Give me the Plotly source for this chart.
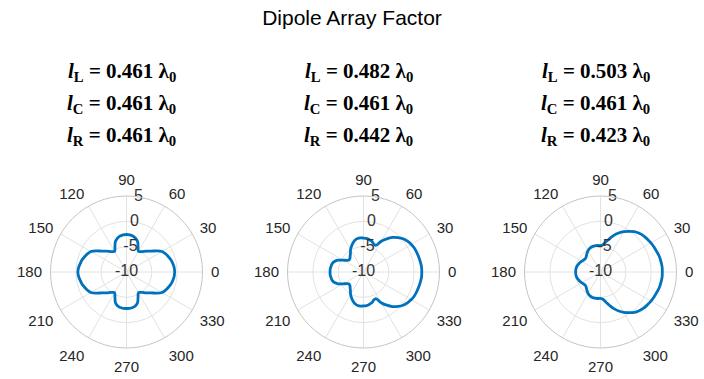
import plotly.graph_objects as go

# ---- data ----
theta_deg = [0, 5, 10, 15, 20, 25, 30, 35, 40, 45, 50, 55, 60, 65, 70, 75, 80, 85, 90,
             95, 100, 105, 110, 115, 120, 125, 130, 135, 140, 145, 150, 155, 160, 165, 170, 175, 180,
             185, 190, 195, 200, 205, 210, 215, 220, 225, 230, 235, 240, 245, 250, 255, 260, 265, 270,
             275, 280, 285, 290, 295, 300, 305, 310, 315, 320, 325, 330, 335, 340, 345, 350, 355, 360]

af_left = [-0.5, -0.55, -0.7, -0.9, -1.2, -1.5, -1.9, -2.7, -3.6, -4.2, -4.7, -5.1, -5.3, -4.6, -3.6, -3.1, -2.8, -2.65, -2.6,
           -2.65, -2.8, -3.1, -3.6, -4.6, -5.3, -5.1, -4.7, -4.2, -3.6, -2.7, -1.9, -1.5, -1.2, -0.9, -0.7, -0.5, -0.4,
           -0.5, -0.7, -0.9, -1.2, -1.5, -1.9, -2.7, -3.6, -4.2, -4.7, -5.1, -5.3, -4.6, -3.6, -3.1, -2.9, -2.8, -2.8,
           -2.8, -2.9, -3.1, -3.6, -4.6, -5.3, -5.1, -4.7, -4.2, -3.6, -2.7, -1.9, -1.5, -1.2, -0.9, -0.7, -0.55, -0.5]

af_mid = [1.5, 1.5, 1.4, 1.3, 1.2, 1.1, 0.9, 0.6, 0.2, -0.4, -1.1, -2.0, -3.0, -4.2, -4.1, -3.7, -3.5, -3.35, -3.3,
          -3.25, -3.3, -3.5, -3.9, -4.4, -4.9, -5.5, -5.9, -6.2, -6.3, -6.0, -5.3, -4.5, -3.9, -3.6, -3.5, -3.4, -3.4,
          -3.4, -3.5, -3.6, -3.9, -4.5, -5.3, -6.0, -6.3, -6.2, -5.9, -5.5, -4.9, -4.4, -3.9, -3.5, -3.3, -3.25, -3.3,
          -3.35, -3.5, -3.7, -4.1, -4.2, -3.0, -2.0, -1.1, -0.4, 0.2, 0.6, 0.9, 1.1, 1.2, 1.3, 1.4, 1.5, 1.5]

af_right = [2.2, 2.2, 2.1, 2.0, 1.8, 1.65, 1.5, 1.3, 1.1, 0.8, 0.4, -0.2, -0.8, -1.5, -2.3, -3.2, -4.0, -4.6, -4.8,
            -4.75, -4.7, -4.7, -4.75, -4.9, -5.1, -5.4, -5.7, -5.95, -6.0, -5.9, -5.75, -5.55, -5.4, -5.25, -5.15, -5.1, -5.1,
            -5.1, -5.15, -5.25, -5.4, -5.55, -5.75, -5.9, -6.0, -5.95, -5.7, -5.4, -5.1, -4.9, -4.75, -4.7, -4.7, -4.75, -4.8,
            -4.6, -4.0, -3.2, -2.3, -1.5, -0.8, -0.2, 0.4, 0.8, 1.1, 1.3, 1.5, 1.65, 1.8, 2.0, 2.1, 2.2, 2.2]

series = [af_left, af_mid, af_right]

l_L = ["0.461", "0.482", "0.503"]
l_C = ["0.461", "0.461", "0.461"]
l_R = ["0.461", "0.442", "0.423"]

angle_ticks = list(range(0, 360, 30))
angle_labels = [str(a) for a in angle_ticks]
r_ticks = [-10, -5, 0, 5]
r_labels = ["-10", "-5", "0", "5"]
r_label_angle = 81  # direction along which the radial tick labels are written

# ---- layout geometry ----
W, H = 704, 379
centers_x = [126.5, 363.5, 600.5]
center_y = 272
D = 76  # half-size of each polar domain box

fig = go.Figure()
layout_polars = {}
annotations = []
for i, (cx, rvals) in enumerate(zip(centers_x, series)):
    name = "polar" if i == 0 else f"polar{i+1}"
    fig.add_trace(go.Scatterpolar(
        theta=theta_deg, r=rvals, mode="lines",
        line=dict(color="#0072BD", width=2.8, shape="spline", smoothing=1.0),
        subplot=name, showlegend=False, hoverinfo="skip"))
    # radial tick labels, written along the ~80-degree direction like the reference
    fig.add_trace(go.Scatterpolar(
        theta=[r_label_angle] * len(r_ticks), r=r_ticks, mode="text",
        text=r_labels, textposition="middle center",
        textfont=dict(family="Arial", size=16, color="#333333"),
        cliponaxis=False, subplot=name, showlegend=False, hoverinfo="skip"))
    layout_polars[name] = dict(
        domain=dict(x=[(cx - D) / W, (cx + D) / W],
                    y=[1 - (center_y + D) / H, 1 - (center_y - D) / H]),
        bgcolor="white",
        radialaxis=dict(range=[-10, 5], tickvals=r_ticks, showticklabels=False,
                        angle=80, showline=False, ticks="",
                        gridcolor="#e2e2e2", gridwidth=1),
        angularaxis=dict(tickvals=angle_ticks, ticktext=angle_labels,
                         rotation=0, direction="counterclockwise",
                         gridcolor="#e2e2e2", gridwidth=1,
                         showline=True, linecolor="#c4c4c4", linewidth=1,
                         ticks="outside", ticklen=5, tickcolor="rgba(0,0,0,0)",
                         tickfont=dict(family="Arial", size=15, color="#262626")),
    )
    lines = [("L", l_L[i]), ("C", l_C[i]), ("R", l_R[i])]
    ys = [72, 104, 136]
    for (sub, val), yy in zip(lines, ys):
        annotations.append(dict(
            text=f"<b><i>l</i><sub>{sub}</sub> = {val} λ<sub>0</sub></b>",
            x=(cx - 5) / W, y=1 - yy / H, xref="paper", yref="paper",
            xanchor="center", yanchor="middle", showarrow=False,
            font=dict(family="Liberation Serif", size=21, color="#000000")))

fig.update_layout(
    width=W, height=H, autosize=False,
    margin=dict(l=0, r=0, t=0, b=0),
    paper_bgcolor="white", plot_bgcolor="white",
    title=dict(text="Dipole Array Factor", x=0.5, xanchor="center",
               y=1 - 18 / H, yanchor="middle", yref="container",
               font=dict(family="Arial", size=21, color="#000000")),
    annotations=annotations,
    **layout_polars,
)

fig.write_html("out.html", config={"displayModeBar": False},
               post_script="document.body.style.margin='0';document.body.style.overflow='hidden';")
